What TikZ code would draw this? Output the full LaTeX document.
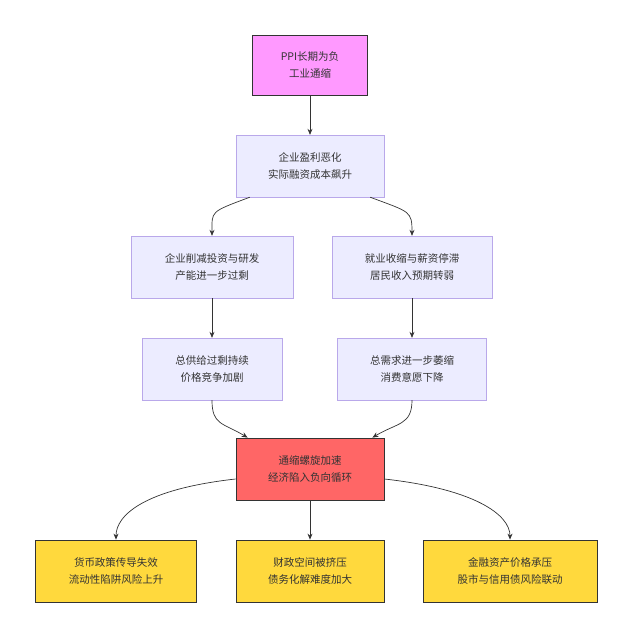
\documentclass[tikz,border=0pt]{standalone}
\usepackage{fontspec}
\setmainfont{Noto Sans CJK SC}
\usetikzlibrary{arrows.meta}
\definecolor{pinkfill}{HTML}{FF99FF}
\definecolor{lavfill}{HTML}{ECECFF}
\definecolor{lavline}{HTML}{B9A8EA}
\definecolor{redfill}{HTML}{FF6666}
\definecolor{yelfill}{HTML}{FFD93D}
\tikzstyle{box} = [draw=lavline, fill=lavfill, align=center, font=\fontsize{10.5}{17}\selectfont, text=black!80, minimum height=62pt, inner sep=0pt]
\tikzstyle{hot} = [box, draw=black!80, line width=0.8pt]
\tikzstyle{line} = [draw, color=black!80, line width=0.7pt, -{Stealth[length=6pt,width=5pt]}]
\begin{document}
\begin{tikzpicture}[x=1pt, y=-1pt]
		\useasboundingbox (0,0) rectangle (633,638);
		
		% Draw diagram elements
		\node (ppi) [hot, fill=pinkfill, minimum width=115pt, minimum height=60pt] at (310,65) {PPI长期为负\\工业通缩};
		\node (profit) [box, minimum width=148pt] at (310,166) {企业盈利恶化\\实际融资成本飙升};
		\node (invest) [box, minimum width=162pt] at (212,267) {企业削减投资与研发\\产能进一步过剩};
		\node (wage) [box, minimum width=160pt] at (412,267) {就业收缩与薪资停滞\\居民收入预期转弱};
		\node (supply) [box, minimum width=140pt] at (212,369) {总供给过剩持续\\价格竞争加剧};
		\node (demand) [box, minimum width=149pt] at (412,369) {总需求进一步萎缩\\消费意愿下降};
		\node (spiral) [hot, fill=redfill, minimum width=148pt] at (310,469) {通缩螺旋加速\\经济陷入负向循环};
		\node (money) [hot, fill=yelfill, minimum width=161pt] at (116,571) {货币政策传导失效\\流动性陷阱风险上升};
		\node (fiscal) [hot, fill=yelfill, minimum width=148pt] at (310,571) {财政空间被挤压\\债务化解难度加大};
		\node (asset) [hot, fill=yelfill, minimum width=174pt] at (510,571) {金融资产价格承压\\股市与信用债风险联动};
		
		% Draw arrows between elements
		\path [line] (ppi.south) -- (profit.north);
		\path [line] (profit.south west) ++(14,0) .. controls +(-40,15) and +(0,-25) .. (invest.north);
		\path [line] (profit.south east) ++(-14,0) .. controls +(40,15) and +(0,-25) .. (wage.north);
		\path [line] (invest.south) -- (supply.north);
		\path [line] (wage.south) -- (demand.north);
		\path [line] (supply.south) .. controls +(0,25) and +(-25,-15) .. ([xshift=12pt]spiral.north west);
		\path [line] (demand.south) .. controls +(0,25) and +(25,-15) .. ([xshift=-12pt]spiral.north east);
		\path [line] ([yshift=-10pt]spiral.west) .. controls +(-90,10) and +(0,-25) .. (money.north);
		\path [line] (spiral.south) -- (fiscal.north);
		\path [line] ([yshift=-10pt]spiral.east) .. controls +(90,10) and +(0,-25) .. (asset.north);
		
	\end{tikzpicture}
\end{document}
